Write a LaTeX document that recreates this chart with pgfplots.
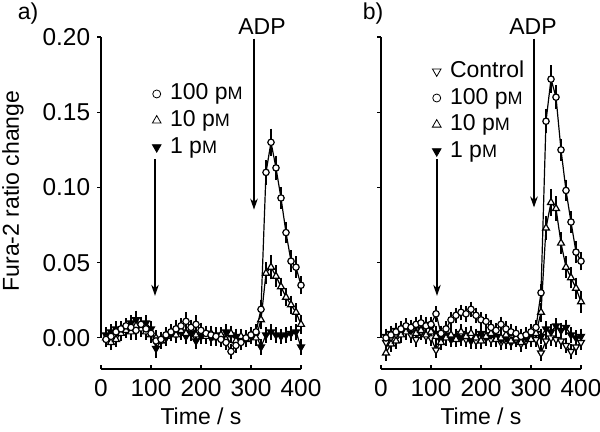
\documentclass[border=0pt]{standalone}
\usepackage{pgfplots}
\pgfplotsset{compat=1.18}
\usepackage{pgfplotstable}
\usepackage{fontspec}
\setmainfont{Liberation Sans}
\usetikzlibrary{arrows.meta}

\newcommand{\pM}{p{\fontsize{9}{9}\selectfont M}}
\newcommand{\fs}{\fontsize{11.5}{13.5}\selectfont}
\newcommand{\ft}{\fontsize{12.2}{14}\selectfont}

% Left panel
\pgfplotstableread{
t v e
10 -0.001 0.003
20 0.001 0.003
30 0.004 0.003
40 0.006 0.003
50 0.008 0.003
60 0.007 0.003
70 0.005 0.004
80 0.009 0.003
90 0.006 0.003
100 0.003 0.003
110 -0.002 0.003
120 -0.001 0.003
130 0.002 0.003
140 0.004 0.003
150 0.006 0.004
160 0.008 0.003
170 0.011 0.004
180 0.007 0.003
190 0.009 0.004
200 0.005 0.003
210 0.003 0.003
220 0.002 0.003
230 0.001 0.003
240 -0.001 0.003
250 -0.003 0.003
260 -0.009 0.003
270 -0.005 0.003
280 -0.003 0.003
290 0.000 0.003
300 0.002 0.003
310 0.004 0.003
320 0.019 0.004
330 0.110 0.006
340 0.130 0.007
350 0.113 0.006
360 0.093 0.005
370 0.070 0.005
380 0.051 0.005
390 0.047 0.005
400 0.035 0.004
}\LA
\pgfplotstableread{
t v e
10 0.000 0.003
20 -0.003 0.003
30 -0.001 0.003
40 0.003 0.003
50 0.005 0.003
60 0.004 0.003
70 0.008 0.003
80 0.006 0.003
90 0.004 0.003
100 0.002 0.003
110 0.000 0.003
120 -0.002 0.003
130 0.001 0.003
140 0.003 0.003
150 0.002 0.003
160 0.005 0.003
170 0.003 0.004
180 0.006 0.003
190 0.002 0.003
200 0.004 0.003
210 0.001 0.003
220 0.003 0.003
230 0.000 0.003
240 0.002 0.003
250 -0.001 0.003
260 0.003 0.003
270 -0.002 0.003
280 0.001 0.003
290 -0.001 0.003
300 0.002 0.003
310 0.000 0.003
320 0.012 0.004
330 0.043 0.005
340 0.047 0.006
350 0.041 0.005
360 0.034 0.004
370 0.027 0.004
380 0.022 0.004
390 0.017 0.004
400 0.009 0.004
}\LB
\pgfplotstableread{
t v e
10 0.002 0.003
20 0.004 0.003
30 0.006 0.003
40 0.005 0.003
50 0.007 0.003
60 0.010 0.003
70 0.012 0.004
80 0.008 0.003
90 0.010 0.003
100 0.006 0.003
110 -0.007 0.004
120 -0.002 0.003
130 0.000 0.003
140 0.003 0.003
150 0.002 0.003
160 0.004 0.003
170 0.001 0.003
180 0.003 0.003
190 -0.002 0.003
200 0.001 0.003
210 0.003 0.003
220 0.000 0.003
230 0.002 0.003
240 0.000 0.003
250 0.004 0.003
260 0.002 0.003
270 0.001 0.003
280 -0.001 0.003
290 0.000 0.003
300 0.001 0.003
310 0.002 0.003
320 -0.006 0.003
330 0.002 0.003
340 0.004 0.003
350 0.002 0.003
360 0.001 0.003
370 0.002 0.003
380 0.003 0.003
390 0.004 0.003
400 -0.006 0.003
}\LC

% Right panel
\pgfplotstableread{
t v e
10 -0.003 0.003
20 0.000 0.003
30 0.002 0.003
40 0.003 0.003
50 0.005 0.003
60 0.002 0.003
70 -0.001 0.003
80 0.004 0.003
90 0.001 0.003
100 0.000 0.003
110 -0.008 0.003
120 -0.002 0.003
130 0.001 0.003
140 -0.001 0.003
150 0.000 0.003
160 0.003 0.003
170 -0.001 0.003
180 0.001 0.003
190 -0.002 0.003
200 0.000 0.003
210 0.002 0.003
220 -0.001 0.003
230 0.000 0.003
240 -0.003 0.003
250 -0.002 0.003
260 0.000 0.003
270 -0.001 0.003
280 -0.004 0.003
290 -0.002 0.003
300 0.001 0.003
310 -0.001 0.003
320 -0.010 0.003
330 -0.002 0.003
340 0.000 0.003
350 -0.001 0.003
360 -0.002 0.003
370 -0.005 0.003
380 -0.009 0.003
390 -0.006 0.003
400 -0.003 0.003
}\RK
\pgfplotstableread{
t v e
10 0.000 0.003
20 0.002 0.003
30 0.004 0.003
40 0.006 0.003
50 0.008 0.003
60 0.007 0.003
70 0.009 0.003
80 0.010 0.003
90 0.008 0.003
100 0.009 0.003
110 0.016 0.003
120 0.003 0.003
130 0.006 0.003
140 0.012 0.003
150 0.015 0.003
160 0.017 0.003
170 0.016 0.003
180 0.019 0.003
190 0.015 0.003
200 0.012 0.003
210 0.011 0.003
220 0.007 0.003
230 0.005 0.003
240 0.009 0.003
250 0.006 0.003
260 0.004 0.003
270 0.003 0.003
280 0.001 0.003
290 0.002 0.003
300 0.004 0.003
310 0.007 0.003
320 0.030 0.004
330 0.144 0.006
340 0.172 0.007
350 0.160 0.006
360 0.125 0.005
370 0.098 0.005
380 0.077 0.005
390 0.057 0.005
400 0.051 0.004
}\RA
\pgfplotstableread{
t v e
10 -0.010 0.003
20 -0.004 0.003
30 -0.002 0.003
40 0.002 0.003
50 0.004 0.003
60 0.006 0.003
70 0.003 0.003
80 0.005 0.003
90 0.002 0.003
100 0.004 0.003
110 0.001 0.003
120 -0.003 0.003
130 0.000 0.003
140 0.002 0.003
150 -0.001 0.003
160 0.004 0.003
170 0.001 0.003
180 0.003 0.003
190 0.000 0.003
200 -0.002 0.003
210 0.001 0.003
220 0.003 0.003
230 -0.001 0.003
240 0.000 0.003
250 0.002 0.003
260 -0.002 0.003
270 0.000 0.003
280 -0.003 0.003
290 0.001 0.003
300 -0.001 0.003
310 0.003 0.003
320 0.017 0.004
330 0.073 0.006
340 0.090 0.007
350 0.086 0.006
360 0.063 0.005
370 0.047 0.005
380 0.040 0.005
390 0.033 0.005
400 0.024 0.005
}\RB
\pgfplotstableread{
t v e
10 0.001 0.003
20 0.003 0.003
30 0.005 0.003
40 0.004 0.003
50 0.007 0.003
60 0.005 0.003
70 0.008 0.003
80 0.006 0.003
90 0.009 0.003
100 0.007 0.003
110 0.003 0.003
120 0.000 0.003
130 0.002 0.003
140 -0.001 0.003
150 0.001 0.003
160 0.000 0.003
170 0.002 0.003
180 -0.002 0.003
190 0.001 0.003
200 0.003 0.003
210 0.000 0.003
220 0.002 0.003
230 0.001 0.003
240 -0.001 0.003
250 0.000 0.003
260 -0.003 0.003
270 0.001 0.003
280 -0.002 0.003
290 0.000 0.003
300 0.002 0.003
310 0.003 0.003
320 0.001 0.003
330 0.006 0.003
340 0.004 0.003
350 0.008 0.003
360 0.005 0.003
370 0.007 0.003
380 0.002 0.003
390 0.000 0.003
400 0.001 0.003
}\RC

\pgfplotsset{
  panel/.style={
    scale only axis, width=100pt, height=166pt,
    xmin=0, xmax=400, ymin=-0.02067, ymax=0.2,
    axis lines*=left, axis line style={draw=none},
    clip=false,
    xtick={0,100,200,300,400}, ytick={0,0.05,0.1,0.15,0.2},
    tick align=outside, major tick length=1.9pt,
    tick style={black, line width=0.6pt},
    xtick style={yshift=1.9pt},
    yticklabel style={/pgf/number format/.cd, fixed, fixed zerofill, precision=2},
    /pgf/number format/assume math mode=true,
    tick label style={font=\ft},
    label style={font=\fs},
    xlabel={Time / s},
    xlabel style={at={(axis description cs:0.5,-0.142)}, anchor=center},
    legend image code/.code={\draw[#1] plot coordinates {(0pt,0pt)};},
    legend style={draw=none, fill=none, font=\fs, row sep=0.3pt, column sep=3pt,
      nodes={inner sep=1.5pt, text height=8pt, text depth=2pt}},
    legend cell align=left,
  },
  ser/.style={black, line width=0.6pt,
    error bars/y dir=both, error bars/y explicit,
    error bars/error bar style={line width=0.6pt, solid},
    error bars/error mark options={mark size=1.6pt, line width=0.6pt}},
  mcirc/.style={mark=*, mark size=1.6pt, mark options={fill=white, solid}},
  mtri/.style={mark=triangle*, mark size=2pt, mark options={fill=white, solid}},
  mdown/.style={mark=triangle*, mark size=2pt, mark options={fill=black, rotate=180, solid}},
  mctrl/.style={mark=triangle*, mark size=2pt, mark options={fill=white, rotate=180, solid}},
}

\begin{document}
\begin{tikzpicture}
\useasboundingbox (0,0) rectangle (300pt,-216pt);
\node[font=\fs] at (14pt,-6.75pt) {a)};
\node[font=\fs] at (186.5pt,-7pt) {b)};

\begin{axis}[panel, at={(50.5pt,-184.5pt)}, anchor=south west,
  ylabel={Fura-2 ratio change},
  ylabel style={at={(axis description cs:-0.44,0.536)}, anchor=center},
  legend style={at={(axis cs:90,0.1737)}, anchor=north west}]
  \addlegendimage{only marks, mark=*, mark size=2pt, mark options={fill=white}}
  \addlegendentry{100 \pM}
  \addlegendimage{only marks, mark=triangle*, mark size=2.5pt, mark options={fill=white}}
  \addlegendentry{10 \pM}
  \addlegendimage{only marks, mark=triangle*, mark size=2.5pt, mark options={fill=black, rotate=180}}
  \addlegendentry{1 \pM}
  \draw[line width=0.6pt] (axis cs:0,0) -- (axis cs:0,0.2);
  \draw[line width=0.6pt] (axis cs:0,-0.02067) -- (axis cs:400,-0.02067);
  \addplot[ser, mdown, forget plot] table[x=t, y=v, y error=e] {\LC};
  \addplot[ser, mtri, forget plot] table[x=t, y=v, y error=e] {\LB};
  \addplot[ser, mcirc, forget plot] table[x=t, y=v, y error=e] {\LA};
  \draw[line width=0.6pt, -{Stealth[length=5.5pt,width=3.8pt]}] (axis cs:306,0.199) -- (axis cs:306,0.0853);
  \draw[line width=0.6pt, -{Stealth[length=5.5pt,width=3.8pt]}] (axis cs:108,0.1187) -- (axis cs:108,0.028);
  \node[font=\fs] at (axis cs:322,0.2067) {ADP};
\end{axis}

\begin{axis}[panel, at={(190.5pt,-184.5pt)}, anchor=south west,
  yticklabels={},
  legend style={at={(axis cs:90,0.1887)}, anchor=north west}]
  \addlegendimage{only marks, mark=triangle*, mark size=2.5pt, mark options={fill=white, rotate=180}}
  \addlegendentry{Control}
  \addlegendimage{only marks, mark=*, mark size=2pt, mark options={fill=white}}
  \addlegendentry{100 \pM}
  \addlegendimage{only marks, mark=triangle*, mark size=2.5pt, mark options={fill=white}}
  \addlegendentry{10 \pM}
  \addlegendimage{only marks, mark=triangle*, mark size=2.5pt, mark options={fill=black, rotate=180}}
  \addlegendentry{1 \pM}
  \draw[line width=0.6pt] (axis cs:0,0) -- (axis cs:0,0.2);
  \draw[line width=0.6pt] (axis cs:0,-0.02067) -- (axis cs:400,-0.02067);
  \addplot[ser, mctrl, forget plot] table[x=t, y=v, y error=e] {\RK};
  \addplot[ser, mdown, forget plot] table[x=t, y=v, y error=e] {\RC};
  \addplot[ser, mtri, forget plot] table[x=t, y=v, y error=e] {\RB};
  \addplot[ser, mcirc, forget plot] table[x=t, y=v, y error=e] {\RA};
  \draw[line width=0.6pt, -{Stealth[length=5.5pt,width=3.8pt]}] (axis cs:306,0.199) -- (axis cs:306,0.0867);
  \draw[line width=0.6pt, -{Stealth[length=5.5pt,width=3.8pt]}] (axis cs:112,0.1187) -- (axis cs:112,0.028);
  \node[font=\fs] at (axis cs:304,0.2067) {ADP};
\end{axis}
\end{tikzpicture}
\end{document}
